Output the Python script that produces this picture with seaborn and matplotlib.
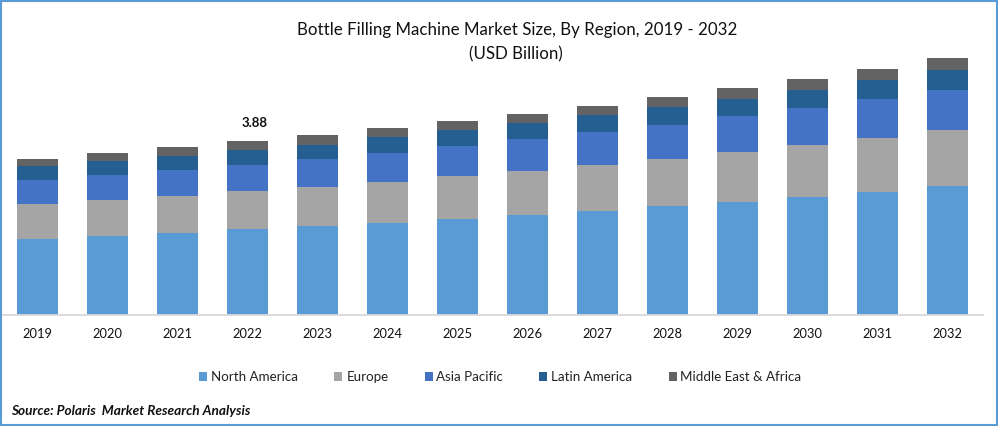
import numpy as np
import matplotlib
matplotlib.use("Agg")
import matplotlib.pyplot as plt
from matplotlib.patches import Rectangle
import seaborn as sns

years = ["2019", "2020", "2021", "2022", "2023", "2024", "2025",
         "2026", "2027", "2028", "2029", "2030", "2031", "2032"]
north_america = [1.69, 1.76, 1.83, 1.92, 1.98, 2.05, 2.14, 2.23, 2.32, 2.43, 2.52, 2.63, 2.74, 2.88]
europe = [0.78, 0.80, 0.82, 0.85, 0.87, 0.91, 0.96, 0.98, 1.03, 1.05, 1.11, 1.16, 1.20, 1.25]
asia_pacific = [0.54, 0.56, 0.58, 0.58, 0.62, 0.65, 0.67, 0.71, 0.74, 0.76, 0.80, 0.82, 0.87, 0.89]
latin_america = [0.31, 0.31, 0.31, 0.33, 0.33, 0.36, 0.36, 0.36, 0.38, 0.40, 0.38, 0.40, 0.42, 0.45]
mea = [0.16, 0.18, 0.20, 0.20, 0.21, 0.20, 0.20, 0.20, 0.20, 0.22, 0.25, 0.25, 0.25, 0.25]

regions = ["North America", "Europe", "Asia Pacific", "Latin America", "Middle East & Africa"]
series = [north_america, europe, asia_pacific, latin_america, mea]
colors = ["#5B9BD5", "#A5A5A5", "#4472C4", "#255E91", "#636363"]

sns.set_style("white")
plt.rcParams["font.family"] = ["Lato", "DejaVu Sans"]

W, H = 998, 426
fig = plt.figure(figsize=(W / 100, H / 100), dpi=100)
ax = fig.add_axes([2.5 / W, (H - 315) / H, 980 / W, 275 / H])

# stacked bars
bottom = np.zeros(len(years))
for name, vals, c in zip(regions, series, colors):
    sns.barplot(x=years, y=vals, bottom=bottom, color=c, saturation=1,
                width=0.586, label=name, ax=ax, linewidth=0)
    bottom = bottom + np.array(vals)

ax.set_xlim(-0.5, 13.5)
ax.set_ylim(0, 275 / 44.85)
ax.set_yticks([])
ax.set_xlabel("")
ax.set_ylabel("")
ax.tick_params(axis="x", length=0, pad=9.5, labelsize=9.3, labelcolor="#111111")
sns.despine(ax=ax, left=True)
ax.spines["bottom"].set_color("#D9D9D9")
ax.spines["bottom"].set_linewidth(1.3)

ax.annotate("3.88", xy=(3, bottom[3]), xytext=(5, 8.4), textcoords="offset points",
            ha="center", va="bottom", fontsize=9.5, fontweight="bold", color="#111111")

ax.legend(loc="center", bbox_to_anchor=(500.5 / W, (H - 377) / H),
          bbox_transform=fig.transFigure, ncol=5, frameon=False, fontsize=9.6,
          handlelength=0.6, handleheight=0.6, handletextpad=0.3, columnspacing=2.7,
          labelcolor="#222222")

fig.text(517.5 / W, (H - 30) / H, "Bottle Filling Machine Market Size, By Region, 2019 - 2032",
         ha="center", va="center", fontsize=12.2, color="#111111")
fig.text(516 / W, (H - 54) / H, "(USD Billion)", ha="center", va="center",
         fontsize=12.2, color="#111111")
fig.text(11 / W, (H - 411) / H, "Source: Polaris  Market Research Analysis", ha="left",
         va="center", fontsize=9.8, fontweight="bold", fontstyle="italic", color="#111111")

# blue frame round the whole image
fig.add_artist(Rectangle((1 / W, 1 / H), (W - 2) / W, (H - 2) / H, transform=fig.transFigure,
                         fill=False, edgecolor="#5B9BD5", linewidth=1.5))

fig.savefig("out.png", dpi=100)
